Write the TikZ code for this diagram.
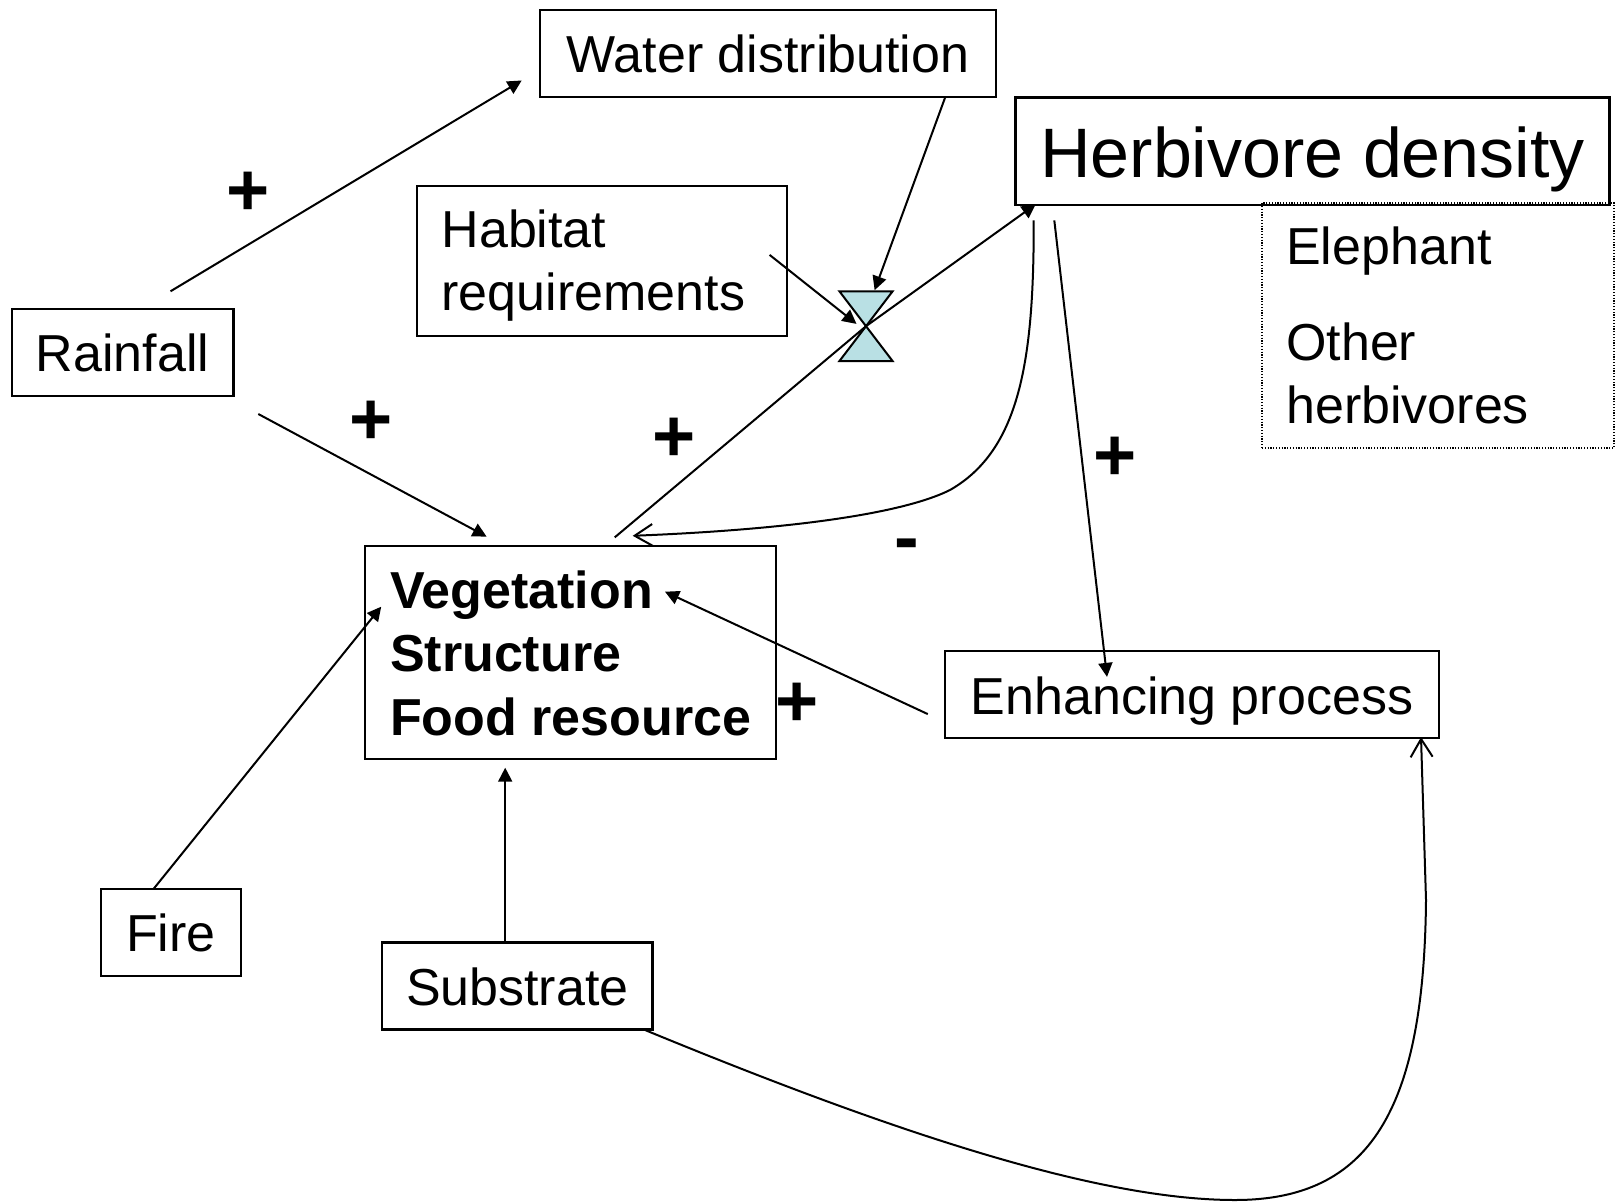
\documentclass[tikz,border=0pt]{standalone}
\usepackage{fontspec}
\setmainfont{Liberation Sans}
\usetikzlibrary{arrows.meta}
\definecolor{valvecol}{HTML}{B9E0E4}
\newcommand\fsN{\fontsize{26}{31.65}\selectfont}
\newcommand\fsB{\fontsize{26}{31.65}\selectfont\bfseries}
\newcommand\fsH{\fontsize{35}{42}\selectfont}
\newcommand\fsS{\fontsize{37}{40}\selectfont\bfseries}
\begin{document}
\begin{tikzpicture}[x=0.5pt, y=-0.5pt,
  box/.style={draw, line width=1.2pt, inner xsep=0pt, inner ysep=0pt, outer sep=0pt,
              font=\fsN, text height=31.5pt, text depth=12pt},
  conn/.style={line width=1pt, -{Triangle[length=7pt,width=7pt]}},
  openc/.style={line width=1pt, -{Straight Barb[length=9pt,width=11pt]}},
  sign/.style={font=\fsS, inner sep=0pt, anchor=base}]

\useasboundingbox (0,0) rectangle (1620,1202);

% boxes
\node[box, dash pattern=on 0.6pt off 0.8pt, line width=0.9pt, anchor=base west,
      inner xsep=12.1pt, text height=30.7pt, text depth=91.6pt] (kinds) at (1262,264.5)
  {\hbox to 151.9pt{\vtop{\hbox{Elephant}\vskip16.25pt\hbox{Other}\hbox{herbivores}}\hss}};
\node[box, anchor=base, minimum width=228pt] (water) at (768,72.8) {Water distribution};
\node[box, anchor=base, minimum width=297pt, font=\fsH, text height=39.7pt, text depth=14pt]
  (herb) at (1312.6,177.1) {Herbivore density};
\node[box, anchor=base, minimum width=110.8pt] (rain) at (122.7,371.8) {Rainfall};
\node[box, anchor=base, minimum width=70.25pt] (fire) at (171,951.7) {Fire};
\node[box, anchor=base, minimum width=135.1pt] (subst) at (517.3,1005.4) {Substrate};
\node[box, anchor=base, minimum width=247.15pt] (enh) at (1192,714.1) {Enhancing process};
\node[box, anchor=base west, inner xsep=12.4pt, text height=30.65pt, text depth=44.3pt]
  (habitat) at (416.8,247.2)
  {\hbox to 160.4pt{\vtop{\hbox{Habitat}\hbox{requirements}}\hss}};
\node[box, font=\fsB, anchor=base west, inner xsep=12.65pt, text height=31.2pt, text depth=75.15pt]
  (veg) at (364.7,608.6)
  {\hbox to 180.25pt{\vtop{\hbox{Vegetation}\hbox{Structure}\hbox{Food resource}}\hss}};

% valve
\draw[fill=valvecol, line width=1pt, line join=miter]
  (839.4,291.3) -- (892.6,291.3) -- (839.4,361.1) -- (892.6,361.1) -- cycle;
\coordinate (valve) at (866,326.2);

% connector end points
\coordinate (rwA) at (170.5,291.3);  \coordinate (rwB) at (521.7,80.5);
\coordinate (rvA) at (258.3,414);    \coordinate (rvB) at (486.6,536.6);
\coordinate (wvA) at (945.3,97);     \coordinate (wvB) at (874.6,290.2);
\coordinate (hvA) at (769.6,254.9);  \coordinate (hvB) at (856.5,323.9);
\coordinate (vhA) at (614.7,537.4);  \coordinate (vhB) at (1035.7,204.3);
\coordinate (hgA) at (1033.7,220.4); \coordinate (hgB) at (632.7,535.8);
\coordinate (heA) at (1054.3,220.4); \coordinate (heB) at (1107,676.9);
\coordinate (evA) at (927.8,714.1);  \coordinate (evB) at (665,591.7);
\coordinate (fvA) at (153.9,888.5);  \coordinate (fvB) at (381.2,606.7);
\coordinate (svA) at (505.2,942.1);  \coordinate (svB) at (505.2,767.7);
\coordinate (seA) at (645.7,1030.3); \coordinate (seB) at (1421,737.1);

% connectors
\draw[conn] (rwA) -- (rwB);
\draw[conn] (rvA) -- (rvB);
\draw[conn] (wvA) -- (wvB);
\draw[conn] (hvA) -- (hvB);
\draw[conn] (vhA) -- (valve) -- (vhB);
\draw[openc] (hgA) .. controls (1034,360) and (1020,450) .. (950,490)
                   .. controls (900,515) and (780,530) .. (hgB);
\draw[conn] (heA) -- (heB);
\draw[conn] (evA) -- (evB);
\draw[conn] (fvA) -- (fvB);
\draw[conn] (svA) -- (svB);
\draw[openc] (seA) .. controls (900,1135) and (1100,1200) .. (1235,1200)
                   .. controls (1370,1200) and (1424,1110) .. (1426,900) -- (seB);

% signs
\node[sign] (p1) at (248,215.6) {+};
\node[sign] (p2) at (370.9,444.5) {+};
\node[sign] (p3) at (674,462) {+};
\node[sign] (p4) at (1114.8,480.1) {+};
\node[sign] (p5) at (797,726.6) {+};
\node[sign] (m1) at (907.1,562) {-};
\end{tikzpicture}
\end{document}
